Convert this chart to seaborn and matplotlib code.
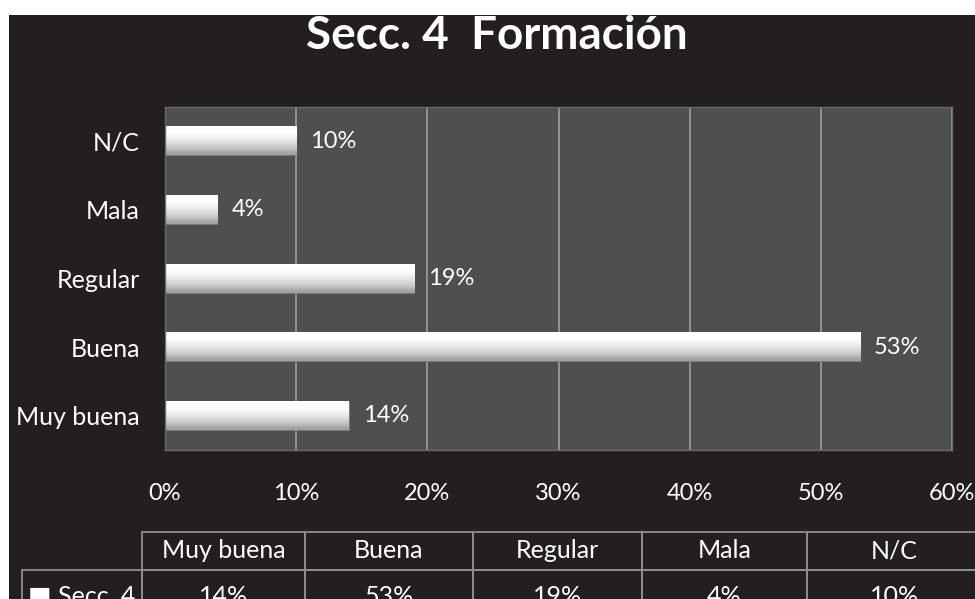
import numpy as np
import pandas as pd
import seaborn as sns
import matplotlib.pyplot as plt
from matplotlib.patches import Rectangle

# datos del gráfico
categorias = ["Muy buena", "Buena", "Regular", "Mala", "N/C"]
valores = [14, 53, 19, 4, 10]
ticks_x = [0, 10, 20, 30, 40, 50, 60]
serie = "Secc. 4"
titulo = "Secc. 4  Formación"

fondo = "#231f20"
fondo_plot = "#4e4f51"
gris_linea = "#8f8f8f"

sns.set_theme(style="darkgrid", rc={"axes.facecolor": fondo_plot,
                                    "grid.color": "#9a9a9a",
                                    "grid.linewidth": 1.3})
plt.rcParams['font.family'] = ['Lato', 'DejaVu Sans']

fig = plt.figure(figsize=(9.75, 5.99), dpi=100, facecolor="white")
# fondo oscuro (deja una franja blanca arriba e izquierda como en la captura)
fig.patches.append(Rectangle((9 / 975, 0), 1, 1 - 15 / 599, transform=fig.transFigure,
                             facecolor=fondo, edgecolor="none", zorder=-10))

ax = fig.add_axes([165 / 975, 1 - 450 / 599, (952 - 165) / 975, (450 - 107) / 599])
df = pd.DataFrame({"categoria": categorias, "valor": valores})
sns.barplot(data=df, x="valor", y="categoria", order=categorias[::-1], orient="h",
            width=0.41, color="white", edgecolor="#7a7a7a", linewidth=0.8, ax=ax)

# degradado tipo cilindro dentro de cada barra
grad = np.array([1.0, 1.0, 0.98, 0.95, 0.9, 0.85, 0.8, 0.72, 0.62]).reshape(-1, 1)
for barra in ax.patches:
    x0, y0 = barra.get_x(), barra.get_y()
    w, h = barra.get_width(), barra.get_height()
    ax.imshow(grad, extent=[x0, x0 + w, y0 + h, y0], origin="upper", aspect="auto",
              cmap="gray", vmin=0, vmax=1, interpolation="bicubic",
              zorder=barra.get_zorder() + 0.1, clip_path=barra)

for cont in ax.containers:
    ax.bar_label(cont, labels=[f"{v:.0f}%" for v in cont.datavalues],
                 padding=10, color="white", fontsize=17)

ax.set_xlim(0, 60)
ax.set_ylim(4.5, -0.5)
ax.set_xticks(ticks_x)
ax.set_xticklabels([f"{t}%" for t in ticks_x])
ax.set_xlabel("")
ax.set_ylabel("")
ax.grid(axis="y", visible=False)
ax.set_axisbelow(True)
ax.tick_params(axis="x", length=0, pad=24, labelsize=17, labelcolor="white")
ax.tick_params(axis="y", length=0, pad=18, labelsize=18, labelcolor="white")
for lado in ax.spines.values():
    lado.set_visible(True)
    lado.set_color("#6a6a6a")
    lado.set_linewidth(1)

fig.text(0.51, 1 - 36 / 599, titulo, ha="center", va="center",
         fontsize=33, fontweight="bold", color="white")

# tabla de datos debajo del gráfico
tab_ax = fig.add_axes([0, 0, 1, 1])
tab_ax.axis("off")
celdas = [["■ " + serie] + [f"{v}%" for v in valores]]
cabecera = [""] + categorias
anchos = [120, 163, 168, 169, 165, 175]
tabla = tab_ax.table(cellText=celdas, colLabels=cabecera, colWidths=anchos,
                     cellLoc="center",
                     bbox=[22 / 975, 1 - 622 / 599, sum(anchos) / 975, 90 / 599])
tabla.auto_set_font_size(False)
tabla.set_fontsize(18)
for (fila, col), celda in tabla.get_celld().items():
    celda.set_facecolor("none")
    celda.set_edgecolor(gris_linea)
    celda.set_linewidth(1.3)
    celda.get_text().set_color("white")
    celda.set_height(38 if fila == 0 else 52)
tabla[(0, 0)].set_visible(False)

plt.savefig("out.png", dpi=100, facecolor=fig.get_facecolor())
